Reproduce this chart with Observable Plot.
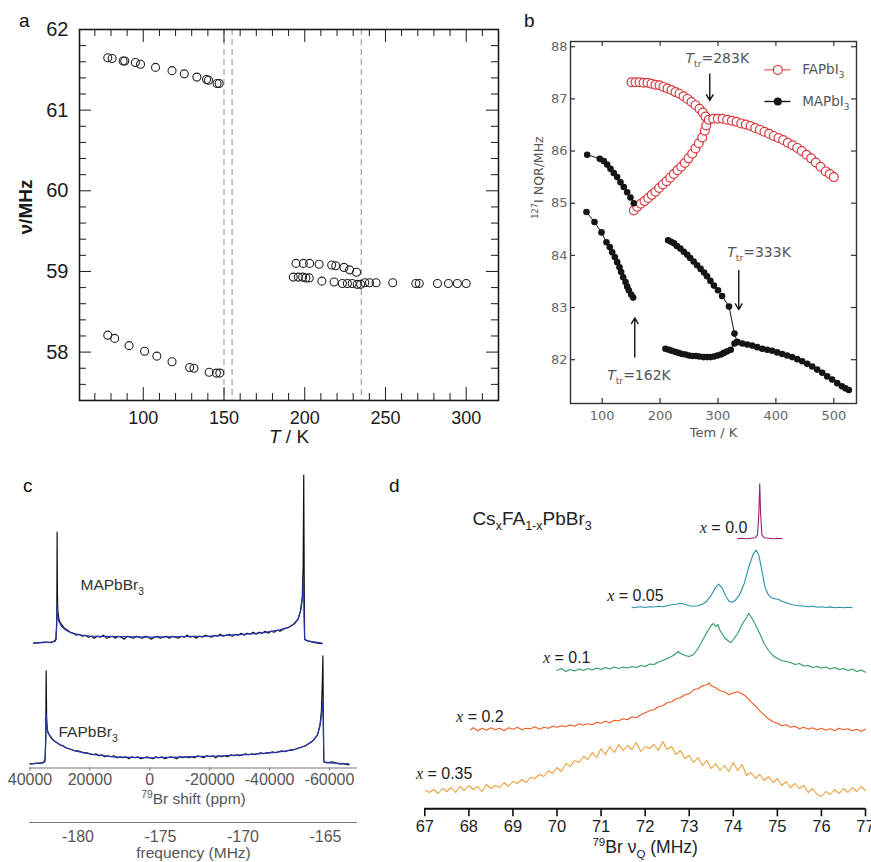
<!DOCTYPE html>
<html><head><meta charset="utf-8">
<script src="https://cdn.jsdelivr.net/npm/d3@7"></script>
<script src="https://cdn.jsdelivr.net/npm/@observablehq/plot@0.6"></script>
<style>
html,body{margin:0;padding:0;background:#fff;}
#fig{position:relative;width:871px;height:862px;overflow:hidden;background:#fff;}
.panel{position:absolute;}
.plab{position:absolute;font-family:"Liberation Sans",Arial,sans-serif;font-size:19px;color:#111;line-height:1;}
</style></head><body><div id="fig"></div>
<script>
// ---------------- DATA ----------------
// Panel a : nu (MHz) vs T (K)
const aUpperT = [78.0, 80.7, 87.5, 88.5, 95.1, 98.3, 107.6, 117.8, 125.4, 133.2, 139.2, 140.4, 145.7, 147.0];
const aUpperV = [61.65, 61.64, 61.61, 61.61, 61.59, 61.57, 61.53, 61.49, 61.45, 61.41, 61.38, 61.37, 61.33, 61.33];
const aLowerT = [78.0, 82.3, 91.2, 100.8, 108.4, 117.8, 128.7, 131.4, 140.8, 145.3, 147.4];
const aLowerV = [58.21, 58.17, 58.08, 58.01, 57.95, 57.88, 57.81, 57.80, 57.75, 57.74, 57.74];
const aMidHiT = [194.6, 199.1, 203.0, 208.9, 216.7, 219.2, 224.3, 227.8, 232.1];
const aMidHiV = [59.10, 59.10, 59.10, 59.09, 59.08, 59.07, 59.05, 59.02, 58.99];
const aMidLoT = [192.9, 196.0, 198.7, 200.7, 202.8, 210.6, 218.2, 223.3, 226.4, 229.4, 232.5, 234.6, 237.2, 240.1, 244.2, 254.5, 268.8, 270.9, 282.2, 289.0, 294.5, 300.0];
const aMidLoV = [58.93, 58.93, 58.93, 58.92, 58.92, 58.88, 58.87, 58.85, 58.85, 58.85, 58.84, 58.84, 58.86, 58.86, 58.86, 58.86, 58.85, 58.85, 58.85, 58.85, 58.85, 58.85];
const aDashT = [150, 155, 235];
const aMajorX = [100, 150, 200, 250, 300];
const aMinorX = [70, 80, 90, 110, 120, 130, 140, 160, 170, 180, 190, 210, 220, 230, 240, 260, 270, 280, 290, 310];
const aMajorY = [58, 59, 60, 61, 62];
const aMinorY = [57.6, 57.8, 58.2, 58.4, 58.6, 58.8, 59.2, 59.4, 59.6, 59.8, 60.2, 60.4, 60.6, 60.8, 61.2, 61.4, 61.6, 61.8];

// Panel b : 127I NQR (MHz) vs T (K)
const faAT = [150.6, 157.5, 164.4, 171.3, 178.2, 185.1, 192.0, 198.9, 205.8, 212.8, 219.7, 226.6, 233.5, 240.4, 247.3, 254.2, 261.1, 268.0, 273.8, 278.4];
const faAV = [87.32, 87.32, 87.32, 87.31, 87.31, 87.29, 87.27, 87.26, 87.23, 87.20, 87.17, 87.13, 87.10, 87.05, 87.00, 86.94, 86.88, 86.81, 86.74, 86.66];
const faBT = [154.6, 160.4, 166.7, 173.1, 179.4, 185.7, 192.0, 198.4, 204.7, 211.1, 217.5, 223.7, 230.1, 236.5, 242.7, 249.1, 255.5, 261.1, 266.9, 272.8, 277.3, 279.7];
const faBV = [84.86, 84.93, 84.99, 85.04, 85.10, 85.16, 85.22, 85.29, 85.36, 85.42, 85.49, 85.56, 85.63, 85.70, 85.77, 85.86, 85.95, 86.05, 86.15, 86.26, 86.39, 86.49];
const faCT = [284.1, 291.7, 299.7, 307.8, 315.9, 324.0, 332.0, 340.1, 348.0, 356.2, 364.2, 372.2, 380.3, 388.4, 396.4, 404.5, 412.6, 420.6, 428.7, 436.8, 444.7, 452.8, 460.9, 468.9, 477.0, 486.2, 493.0, 500.0];
const faCV = [86.60, 86.62, 86.62, 86.62, 86.60, 86.58, 86.56, 86.53, 86.51, 86.48, 86.44, 86.41, 86.37, 86.33, 86.29, 86.25, 86.21, 86.16, 86.11, 86.06, 86.00, 85.93, 85.86, 85.78, 85.70, 85.61, 85.56, 85.50];
const maAT = [74.1, 95.9, 102.8, 108.6, 114.3, 120.0, 125.9, 131.6, 137.3, 143.2, 148.9, 154.6];
const maAV = [85.93, 85.85, 85.81, 85.74, 85.66, 85.58, 85.50, 85.40, 85.31, 85.21, 85.11, 85.00];
const maBT = [72.9, 86.7, 98.8, 107.4, 113.1, 117.3, 121.8, 125.9, 129.9, 132.8, 136.3, 140.3, 143.2, 146.0, 150.1, 153.5];
const maBV = [84.83, 84.64, 84.44, 84.25, 84.16, 84.06, 83.97, 83.87, 83.77, 83.68, 83.58, 83.49, 83.40, 83.33, 83.25, 83.19];
const maCT = [214.0, 219.0, 224.0, 229.0, 235.0, 241.0, 247.0, 252.0, 258.0, 264.0, 270.0, 276.0, 281.0, 287.0, 293.0, 300.0, 307.0, 319.0, 328.5, 333.2];
const maCV = [84.29, 84.26, 84.23, 84.18, 84.13, 84.07, 84.01, 83.95, 83.88, 83.81, 83.74, 83.67, 83.60, 83.51, 83.42, 83.33, 83.22, 83.02, 82.50, 82.34];
const maDT = [209.3, 215, 220, 226, 232, 238, 244, 250, 256, 262, 268, 275, 281, 287, 293, 299, 305, 310, 316, 322, 328.5, 333.2];
const maDV = [82.21, 82.19, 82.17, 82.15, 82.13, 82.11, 82.10, 82.08, 82.07, 82.07, 82.06, 82.05, 82.05, 82.05, 82.06, 82.08, 82.10, 82.13, 82.16, 82.19, 82.31, 82.34];
const maET = [333.2, 341.9, 350.5, 359.1, 367.8, 376.4, 385.0, 393.6, 402.3, 410.9, 419.5, 428.1, 436.8, 445.4, 454.1, 462.7, 471.3, 480.0, 488.6, 497.2, 505.9, 514.0, 520.0, 526.0];
const maEV = [82.34, 82.31, 82.29, 82.27, 82.24, 82.21, 82.19, 82.17, 82.14, 82.11, 82.08, 82.05, 82.01, 81.97, 81.92, 81.87, 81.81, 81.75, 81.68, 81.62, 81.55, 81.49, 81.45, 81.42];
const bMajorX = [100, 200, 300, 400, 500];
const bMajorY = [82, 83, 84, 85, 86, 87, 88];
const bLegendNames = ["FAPbI_{3}", "MAPbI_{3}"];
const bNoteText = ["*T*_{tr}=283K", "*T*_{tr}=333K", "*T*_{tr}=162K"];
const bArrowT = [285.8, 335.9, 156.3];
const bArrowFrom = [87.48, 83.71, 82.05];
const bArrowTo = [86.97, 82.96, 82.80];

// Panel c : 79Br spectra, [shift ppm, intensity]
const cMapExp = [[38800,-6],[37000,-5.5],[35000,-5],[33000,-5.5],[32000,-4],[31300,-2],[31050,20],[30950,105],[30850,45],[30700,26],[30400,19],[30000,15],[29300,12],[28500,9],[27500,7],[26500,5],[25500,4],[24500,2],[23500,3],[22500,1],[21500,2],[20500,0],[19500,1],[18500,-1],[17500,1],[16500,0],[15500,2],[14500,-1],[13500,0],[12500,1],[11500,-1],[10500,1],[9500,0],[8500,-2],[7500,1],[6500,0],[5500,-1],[4500,1],[3500,0],[2500,-1],[1500,1],[500,0],[-500,-2],[-1500,0],[-2500,1],[-3500,-1],[-4500,0],[-5500,1],[-6500,-1],[-7500,1],[-8500,0],[-9500,-1],[-10500,1],[-11500,0],[-12500,2],[-13500,0],[-14500,1],[-15500,-1],[-16500,1],[-17500,0],[-18500,2],[-19500,1],[-20500,0],[-21500,2],[-22500,1],[-23500,3],[-24500,1],[-25500,2],[-26500,3],[-27500,1],[-28500,3],[-29500,2],[-30500,4],[-31500,2],[-32500,4],[-33500,3],[-34500,5],[-35500,3],[-36500,5],[-37500,4],[-38500,6],[-39500,4],[-40500,6],[-41500,5],[-42500,7],[-43500,6],[-44500,8],[-45500,9],[-46500,10],[-47500,12],[-48500,14],[-49500,18],[-50300,26],[-50900,40],[-51200,70],[-51400,162],[-51550,60],[-51700,-2],[-52000,-3],[-53000,-4],[-54500,-5],[-56000,-6],[-57500,-6.5]];
const cMapFit = [[38800,-6],[33000,-5],[31500,-4],[31100,10],[30950,35],[30800,22],[30400,16],[29500,11],[28000,7],[26000,4],[23000,2],[20000,1],[0,0],[-20000,1],[-30000,2.5],[-38000,4.5],[-43000,7],[-46000,9.5],[-48000,13],[-49500,18],[-50500,28],[-51000,40],[-51300,60],[-51500,20],[-51700,-2],[-53000,-4],[-57500,-6]];
const cFapExp = [[40000,-6],[38000,-5.5],[36000,-5],[35000,-4],[34750,20],[34600,87],[34450,40],[34200,28],[33800,24],[33000,20],[32000,17],[31000,15],[30000,13],[29000,12],[28000,10],[27000,9],[26000,8],[25000,7],[24000,7],[23000,6],[22000,5],[21000,5],[20000,4],[19000,3],[18000,4],[17000,2],[16000,3],[15000,1],[14000,2],[13000,1],[12000,2],[11000,0],[10000,1],[9000,0],[8000,1],[7000,-1],[6000,1],[5000,0],[4000,1],[3000,-1],[2000,0],[1000,1],[0,0],[-1000,-1],[-2000,1],[-3000,0],[-4000,1],[-5000,-1],[-6000,0],[-7000,1],[-8000,0],[-9000,-1],[-10000,1],[-11000,0],[-12000,1],[-13000,0],[-14000,1],[-15000,0],[-16000,2],[-17000,1],[-18000,0],[-19000,2],[-20000,1],[-21000,2],[-22000,0],[-23000,2],[-24000,1],[-25000,2],[-26000,1],[-27000,3],[-28000,2],[-29000,3],[-30000,2],[-31000,3],[-32000,4],[-33000,3],[-34000,4],[-35000,3],[-36000,4],[-37000,5],[-38000,4],[-39000,5],[-40000,5],[-41000,6],[-42000,5],[-43000,6],[-44000,7],[-45000,6],[-46000,7],[-47000,8],[-48000,8],[-49000,9],[-50000,10],[-51000,11],[-52000,12],[-53000,14],[-54000,16],[-55000,19],[-56000,23],[-56800,32],[-57300,47],[-57600,75],[-57800,102],[-57950,40],[-58100,-4],[-59000,-5],[-61000,-4],[-63000,-6],[-65000,-6],[-66500,-7]];
const cFapFit = [[40000,-6],[35500,-5],[34900,0],[34700,25],[34600,44],[34450,32],[34000,25],[32000,17],[30000,13],[28000,10],[25000,7],[22000,5],[18000,3],[12000,1],[0,0],[-12000,1],[-24000,2],[-34000,3.5],[-42000,5.5],[-48000,8],[-52000,12],[-54500,17],[-56000,23],[-57000,35],[-57500,48],[-57750,57],[-57950,30],[-58100,-4],[-60000,-5],[-66500,-6]];
const cNames = ["MAPbBr_{3}", "FAPbBr_{3}"];
const cPpmTicks = [40000, 20000, 0, -20000, -40000, -60000];
const cFreqTicks = [-180, -175, -170, -165];

// Panel d : CsxFA1-xPbBr3 spectra, [frequency MHz, intensity]
const dNames = ["0.0", "0.05", "0.1", "0.2", "0.35"];
const d00 = [[74.09,0],[74.2,0.5],[74.3,0],[74.4,0.5],[74.5,1],[74.55,4],[74.58,25],[74.6,55],[74.62,25],[74.65,4],[74.7,1],[74.8,0.5],[74.9,0],[75.0,0.5],[75.11,0]];
const d05 = [[71.7,-0.5],[71.8,0],[71.9,0.5],[72.0,-0.3],[72.1,0.5],[72.2,0.2],[72.3,1],[72.4,0.5],[72.5,1.5],[72.6,2.5],[72.7,3],[72.8,4],[72.9,3],[73.0,1.5],[73.1,1],[73.2,1.5],[73.3,3],[73.4,6],[73.5,12],[73.6,20],[73.67,23],[73.75,19],[73.82,12],[73.9,6],[73.97,5],[74.05,7],[74.15,13],[74.25,24],[74.35,40],[74.45,53],[74.52,57],[74.58,52],[74.65,36],[74.72,20],[74.8,12],[74.88,9],[74.95,8.5],[75.02,8],[75.1,6],[75.2,4.5],[75.3,3],[75.4,2],[75.5,1.5],[75.6,1],[75.7,0.5],[75.8,1],[75.9,0],[76.0,0.5],[76.1,-0.3],[76.2,0.3],[76.3,-0.5],[76.4,0],[76.5,-0.5],[76.6,0],[76.7,-0.6]];
const d10 = [[70.0,0],[70.1,2],[70.2,-1],[70.3,1],[70.4,-0.5],[70.5,1.5],[70.6,0],[70.7,2],[70.8,0.5],[70.9,2.5],[71.0,1],[71.1,3],[71.2,1.5],[71.3,3.5],[71.4,2],[71.5,3.5],[71.6,2.5],[71.7,4],[71.8,3],[71.9,5],[72.0,4],[72.1,6.5],[72.2,6],[72.3,8.5],[72.4,10],[72.5,12],[72.6,14],[72.7,17],[72.75,19],[72.8,17],[72.9,15],[73.0,14],[73.1,16],[73.2,22],[73.3,30],[73.4,38],[73.5,45],[73.55,47],[73.6,44],[73.65,46],[73.7,40],[73.8,33],[73.9,29],[73.95,28],[74.0,31],[74.1,37],[74.2,46],[74.3,53],[74.35,57],[74.4,54],[74.5,46],[74.6,37],[74.7,27],[74.8,20],[74.9,15],[75.0,12],[75.1,10],[75.2,9],[75.3,8],[75.4,6],[75.5,7],[75.6,4.5],[75.7,5],[75.8,3],[75.9,4],[76.0,2.5],[76.1,3.5],[76.2,1.5],[76.3,3],[76.4,1],[76.5,2],[76.6,0],[76.7,1.5],[76.8,-1],[76.9,0.5],[77.0,-1.7]];
const d20 = [[68.04,0],[68.1,2],[68.2,-1],[68.3,1.5],[68.4,-0.5],[68.5,2],[68.6,0],[68.7,1.5],[68.8,-1],[68.9,2],[69.0,0.5],[69.1,2.5],[69.2,0],[69.3,1.5],[69.4,1],[69.5,3],[69.6,0.5],[69.7,2.5],[69.8,1.5],[69.9,3.5],[70.0,2.5],[70.1,4],[70.2,3],[70.3,5],[70.4,3.5],[70.5,6],[70.6,4.5],[70.7,6],[70.8,5],[70.9,7.5],[71.0,6.5],[71.1,8.5],[71.2,7],[71.3,9.5],[71.4,9],[71.5,11],[71.6,10],[71.7,13],[71.8,12],[71.9,15],[72.0,17],[72.1,19],[72.2,20],[72.3,23],[72.4,24],[72.5,27],[72.6,28],[72.7,31],[72.8,32],[72.9,35],[73.0,36],[73.1,40],[73.2,41],[73.3,44],[73.4,45],[73.45,47],[73.5,44],[73.6,42],[73.7,39],[73.8,38],[73.9,35],[74.0,37],[74.1,38],[74.2,36],[74.3,33],[74.4,28],[74.5,24],[74.6,19],[74.7,15],[74.8,11],[74.9,8],[75.0,6.5],[75.1,4],[75.2,5],[75.3,2.5],[75.4,3.5],[75.5,1],[75.6,2.5],[75.7,0.5],[75.8,2],[75.9,0],[76.0,1.5],[76.1,-0.5],[76.2,1],[76.3,-1],[76.4,1.5],[76.5,0],[76.6,1],[76.7,-1],[76.8,0.5],[76.9,-1.5],[77.0,0.5]];
const d35 = [[67.02,0],[67.1,-2],[67.2,1],[67.3,-3],[67.4,2],[67.5,-1],[67.6,3],[67.7,-2],[67.8,4],[67.9,0],[68.0,5],[68.1,1],[68.2,4],[68.3,-1],[68.4,6],[68.5,2],[68.6,5],[68.7,3],[68.8,8],[68.9,4],[69.0,9],[69.1,7],[69.2,11],[69.3,8],[69.4,13],[69.5,12],[69.6,16],[69.7,14],[69.8,20],[69.9,17],[70.0,23],[70.1,19],[70.2,27],[70.3,24],[70.4,30],[70.5,28],[70.6,34],[70.7,31],[70.8,38],[70.9,33],[71.0,42],[71.1,36],[71.2,44],[71.3,38],[71.4,46],[71.5,40],[71.6,45],[71.7,41],[71.8,48],[71.9,39],[72.0,44],[72.1,42],[72.2,46],[72.3,40],[72.4,49],[72.5,41],[72.6,44],[72.7,36],[72.8,40],[72.9,32],[73.0,35],[73.1,28],[73.2,33],[73.3,25],[73.4,30],[73.5,22],[73.6,27],[73.7,20],[73.8,25],[73.9,19],[74.0,28],[74.1,20],[74.2,26],[74.3,15],[74.4,18],[74.5,12],[74.6,16],[74.7,10],[74.8,14],[74.9,8],[75.0,12],[75.1,5],[75.2,9],[75.3,3],[75.4,7],[75.5,2],[75.6,5],[75.7,-2],[75.8,2],[75.9,-4],[76.0,-6],[76.1,-1],[76.2,-4],[76.3,1],[76.4,-3],[76.5,2],[76.6,-2],[76.7,3],[76.8,-1],[76.9,4],[77.0,0]];
const dData = [d00, d05, d10, d20, d35];
const dTicks = [67, 68, 69, 70, 71, 72, 73, 74, 75, 76, 77];

// ---------------- LAYOUT / STYLE ----------------
const fig = document.getElementById("fig");
const pts = (T, V, g) => T.map((t, i) => ({x: t, y: V[i], g}));
const SVGNS = "http://www.w3.org/2000/svg";
const fmt = d => String(d);

function richify(svg) {
  svg.querySelectorAll("text").forEach(el => {
    const s = el.textContent;
    if (!/(\*|~|_\{|\^\{)/.test(s) || el.querySelector("tspan")) return;
    const fs = parseFloat(getComputedStyle(el).fontSize) || 14;
    const parts = s.split(/(\*[^*]+\*|~[^~]+~|_\{[^}]*\}|\^\{[^}]*\})/).filter(p => p);
    el.textContent = "";
    let cur = 0;
    for (const p of parts) {
      const t = document.createElementNS(SVGNS, "tspan");
      let target = 0, txt = p, size = null;
      if (p.startsWith("_{")) { txt = p.slice(2, -1); target = 0.3 * fs; size = 0.66 * fs; }
      else if (p.startsWith("^{")) { txt = p.slice(2, -1); target = -0.4 * fs; size = 0.66 * fs; }
      else if (p.startsWith("*")) { txt = p.slice(1, -1); t.setAttribute("font-style", "italic"); }
      else if (p.startsWith("~")) { txt = p.slice(1, -1); t.setAttribute("font-style", "italic"); t.setAttribute("font-family", "Liberation Serif, serif"); }
      if (target !== cur) { t.setAttribute("dy", (target - cur).toFixed(2)); cur = target; }
      if (size) t.setAttribute("font-size", size.toFixed(2));
      t.textContent = txt;
      el.appendChild(t);
    }
  });
}
function place(node, left, top, w, h) {
  const d = document.createElement("div");
  d.className = "panel";
  d.style.cssText = `left:${left}px;top:${top}px;width:${w}px;height:${h}px;`;
  d.appendChild(node);
  fig.appendChild(d);
  richify(node);
}
function label(txt, left, top) {
  const d = document.createElement("div");
  d.className = "plab"; d.textContent = txt;
  d.style.left = left + "px"; d.style.top = top + "px";
  fig.appendChild(d);
}
const sty = (family, size, color) => ({fontFamily: family, fontSize: size + "px", color, background: "transparent", overflow: "visible"});

// ---------- Panel a ----------
{
  const W = 510, H = 450, ml = 79, mr = 12, mt = 29, mb = 50;
  const iw = W - ml - mr, ih = H - mt - mb;
  const dots = [...pts(aUpperT, aUpperV), ...pts(aLowerT, aLowerV), ...pts(aMidHiT, aMidHiV), ...pts(aMidLoT, aMidLoV)];
  const k = "#1a1a1a";
  const svg = Plot.plot({
    width: W, height: H, marginLeft: ml, marginRight: mr, marginTop: mt, marginBottom: mb,
    x: {domain: [60.5, 320], axis: null}, y: {domain: [57.4, 62], axis: null},
    style: sty("Liberation Sans, Arial, sans-serif", 18, k),
    marks: [
      Plot.ruleX(aDashT, {stroke: "#8c8c8c", strokeDasharray: "6,4", strokeWidth: 1}),
      Plot.tickX(aMinorX, {insetTop: ih - 7, stroke: k}),
      Plot.tickX(aMinorX, {insetBottom: ih - 7, stroke: k}),
      Plot.tickX(aMajorX, {insetTop: ih - 13, stroke: k}),
      Plot.tickX(aMajorX, {insetBottom: ih - 13, stroke: k}),
      Plot.tickY(aMinorY, {insetRight: iw - 7, stroke: k}),
      Plot.tickY(aMinorY, {insetLeft: iw - 7, stroke: k}),
      Plot.tickY(aMajorY, {insetRight: iw - 12, stroke: k}),
      Plot.tickY(aMajorY, {insetLeft: iw - 12, stroke: k}),
      Plot.frame({stroke: k, strokeWidth: 1.6}),
      Plot.axisX(aMajorX, {tickSize: 0, tickPadding: 11, fontSize: 18, label: null, fill: k, tickFormat: fmt}),
      Plot.axisY(aMajorY, {tickSize: 0, tickPadding: 11, fontSize: 20, label: null, fill: k, tickFormat: fmt}),
      Plot.dot(dots, {x: "x", y: "y", r: 4, stroke: "#222", fill: "none", strokeWidth: 1.1}),
      Plot.text(["*T* / K"], {text: d => d, frameAnchor: "bottom", dy: 42, fontSize: 19, fill: k}),
      Plot.text(["ν/MHz"], {text: d => d, frameAnchor: "left", textAnchor: "middle", dx: -54, dy: -8, rotate: -90, fontSize: 19, fontWeight: "bold", fill: k})
    ]
  });
  place(svg, 0, 0, W, H);
  label("a", 19, 11);
}

// ---------- Panel b ----------
{
  const W = 361, H = 450, ml = 60, mr = 15, mt = 41, mb = 47;
  const iw = W - ml - mr, ih = H - mt - mb;
  const red = "#d8353c", blk = "#151515", gray = "#555";
  const fa = [...pts(faAT, faAV, "a"), ...pts(faBT, faBV, "b"), ...pts(faCT, faCV, "c")];
  const ma = [...pts(maAT, maAV, "a"), ...pts(maBT, maBV, "b"), ...pts(maCT, maCV, "c"), ...pts(maDT, maDV, "d"), ...pts(maET, maEV, "e")];
  const arrows = bArrowT.map((t, i) => ({x: t, y1: bArrowFrom[i], y2: bArrowTo[i]}));
  const notePos = [[243.9, 87.77], [315.9, 84.06], [108.6, 81.70]];
  const notes = bNoteText.map((t, i) => ({t, x: notePos[i][0], y: notePos[i][1]}));
  const legY = [87.556, 86.95], legX = [380.2, 425.1, 403.3, 445.4];
  const leg = bLegendNames.map((n, i) => ({n, y: legY[i]}));
  const svg = Plot.plot({
    width: W, height: H, marginLeft: ml, marginRight: mr, marginTop: mt, marginBottom: mb,
    x: {domain: [45.3, 539.2], axis: null}, y: {domain: [81.16, 88.1], axis: null},
    style: sty("DejaVu Sans, Verdana, sans-serif", 13, gray),
    marks: [
      Plot.tickX(bMajorX, {insetTop: ih - 5, stroke: "#333", strokeWidth: 1.2}),
      Plot.tickX(bMajorX, {insetBottom: ih - 5, stroke: "#333", strokeWidth: 1.2}),
      Plot.tickY(bMajorY, {insetRight: iw - 5, stroke: "#333", strokeWidth: 1.2}),
      Plot.tickY(bMajorY, {insetLeft: iw - 5, stroke: "#333", strokeWidth: 1.2}),
      Plot.frame({stroke: "#333", strokeWidth: 1.4}),
      Plot.axisX(bMajorX, {tickSize: 0, tickPadding: 7, fontSize: 13, label: null, fill: "#666", tickFormat: fmt}),
      Plot.axisY(bMajorY, {tickSize: 0, tickPadding: 3, fontSize: 13, label: null, fill: "#666", tickFormat: fmt}),
      Plot.line(fa, {x: "x", y: "y", z: "g", stroke: red, strokeWidth: 1}),
      Plot.dot(fa, {x: "x", y: "y", r: 4.4, stroke: red, fill: "white", strokeWidth: 1.2}),
      Plot.line(ma, {x: "x", y: "y", z: "g", stroke: blk, strokeWidth: 1}),
      Plot.dot(ma, {x: "x", y: "y", r: 3.3, fill: blk}),
      Plot.arrow(arrows, {x1: "x", x2: "x", y1: "y1", y2: "y2", stroke: blk, strokeWidth: 1.4, headLength: 7}),
      Plot.text(notes, {x: "x", y: "y", text: "t", textAnchor: "start", fontSize: 14, fill: gray}),
      Plot.link([leg[0]], {x1: () => legX[0], x2: () => legX[1], y1: "y", y2: "y", stroke: red, strokeWidth: 1}),
      Plot.dot([leg[0]], {x: () => legX[2], y: "y", r: 4.4, stroke: red, fill: "white", strokeWidth: 1.2}),
      Plot.link([leg[1]], {x1: () => legX[0], x2: () => legX[1], y1: "y", y2: "y", stroke: blk, strokeWidth: 1.4}),
      Plot.dot([leg[1]], {x: () => legX[2], y: "y", r: 4, fill: blk}),
      Plot.text(leg, {x: () => legX[3], y: "y", text: "n", textAnchor: "start", fontSize: 13.5, fill: gray}),
      Plot.text(["Tem / K"], {text: d => d, frameAnchor: "bottom", dy: 33, fontSize: 13, fill: gray}),
      Plot.text(["^{127}I NQR/MHz"], {text: d => d, frameAnchor: "left", textAnchor: "middle", dx: -32, dy: -45, rotate: -90, fontSize: 12.5, fill: gray})
    ]
  });
  place(svg, 510, 0, W, H);
  label("b", 524, 11);
}

// ---------- Panel c ----------
{
  const W = 390, H = 402, ml = 29, mr = 33, mt = 0, mb = 94.5;
  const offs = [130.8, 10.2];
  const row = (arr, o) => arr.map(([p, v]) => ({p, y: v + o}));
  const namePos = [[23140, 182.5], [30484, 35.8]];
  const names = cNames.map((n, i) => ({n, x: namePos[i][0], y: namePos[i][1]}));
  const svg = Plot.plot({
    width: W, height: H, marginLeft: ml, marginRight: mr, marginTop: mt, marginBottom: mb,
    x: {domain: [40170, -69350], axis: null}, y: {domain: [0, H - mt - mb], axis: null},
    style: sty("Liberation Sans, Arial, sans-serif", 15, "#444"),
    marks: [
      Plot.ruleY([0], {stroke: "#777", strokeWidth: 1.2}),
      Plot.axisX(cPpmTicks, {tickSize: 3, tickPadding: 3, fontSize: 16, label: null, fill: "#555", stroke: "#777", tickFormat: fmt}),
      Plot.line(row(cMapExp, offs[0]), {x: "p", y: "y", stroke: "#111", strokeWidth: 1.2}),
      Plot.line(row(cMapFit, offs[0]), {x: "p", y: "y", stroke: "#2a35b0", strokeWidth: 1.2}),
      Plot.line(row(cFapExp, offs[1]), {x: "p", y: "y", stroke: "#111", strokeWidth: 1.2}),
      Plot.line(row(cFapFit, offs[1]), {x: "p", y: "y", stroke: "#2a35b0", strokeWidth: 1.2}),
      Plot.text(names, {x: "x", y: "y", text: "n", textAnchor: "start", fontSize: 15.5, fill: "#333"}),
      Plot.text(["^{79}Br shift (ppm)"], {text: d => d, frameAnchor: "bottom", dy: 36, fontSize: 15.5, fill: "#555"})
    ]
  });
  place(svg, 0, 460, W, H);
  const svg2 = Plot.plot({
    width: W, height: 62, marginLeft: ml, marginRight: mr, marginTop: 21, marginBottom: 40,
    x: {domain: [-182.94, -163.06], axis: null}, y: {domain: [0, 1], axis: null},
    style: sty("Liberation Sans, Arial, sans-serif", 15, "#444"),
    marks: [
      Plot.ruleY([0], {stroke: "#777", strokeWidth: 1.2}),
      Plot.axisX(cFreqTicks, {tickSize: 0, tickPadding: 8, fontSize: 16, label: null, fill: "#555", tickFormat: fmt}),
      Plot.text(["frequency (MHz)"], {text: d => d, frameAnchor: "bottom", dy: 35, fontSize: 15.5, fill: "#555"})
    ]
  });
  place(svg2, 0, 800, W, 62);
  label("c", 23, 476);
}

// ---------- Panel d ----------
{
  const W = 481, H = 392, ml = 34.3, mr = 6, mt = 0, mb = 53.7;
  const offs = [270, 201.6, 138.3, 79, 18.3];
  const colors = ["#a01f6d", "#2a91a6", "#2e9a5f", "#f25a20", "#e8a13a"];
  const labX = [74.32, 72.42, 70.76, 68.79, 68.08], lift = [11, 11, 13, 13, 17];
  const labs = dNames.map((n, i) => ({t: "~x~ = " + n, x: labX[i], y: offs[i] + lift[i]}));
  const svg = Plot.plot({
    width: W, height: H, marginLeft: ml, marginRight: mr, marginTop: mt, marginBottom: mb,
    x: {domain: [67, 77], axis: null}, y: {domain: [0, H - mt - mb], axis: null},
    style: sty("Liberation Sans, Arial, sans-serif", 17, "#222"),
    marks: [
      ...dData.map((arr, i) => Plot.line(arr.map(([f, v]) => ({f, y: v + offs[i]})), {x: "f", y: "y", stroke: colors[i], strokeWidth: 1.1})),
      Plot.ruleY([0], {stroke: "#111", strokeWidth: 2}),
      Plot.axisX(dTicks, {tickSize: 8, tickPadding: 3, fontSize: 16.5, label: null, fill: "#222", stroke: "#111", strokeWidth: 1.6, tickFormat: fmt}),
      Plot.text(labs, {x: "x", y: "y", text: "t", textAnchor: "end", fontSize: 16, fill: "#222"}),
      Plot.text(["Cs_{x}FA_{1-x}PbBr_{3}"], {text: d => d, x: () => 68.08, y: () => 290.3, textAnchor: "start", fontSize: 19, fill: "#222"}),
      Plot.text(["^{79}Br ν_{Q} (MHz)"], {text: d => d, frameAnchor: "bottom", dy: 44, fontSize: 17.5, fill: "#222"})
    ]
  });
  place(svg, 390, 470, W, H);
  label("d", 389, 476);
}
</script></body></html>
